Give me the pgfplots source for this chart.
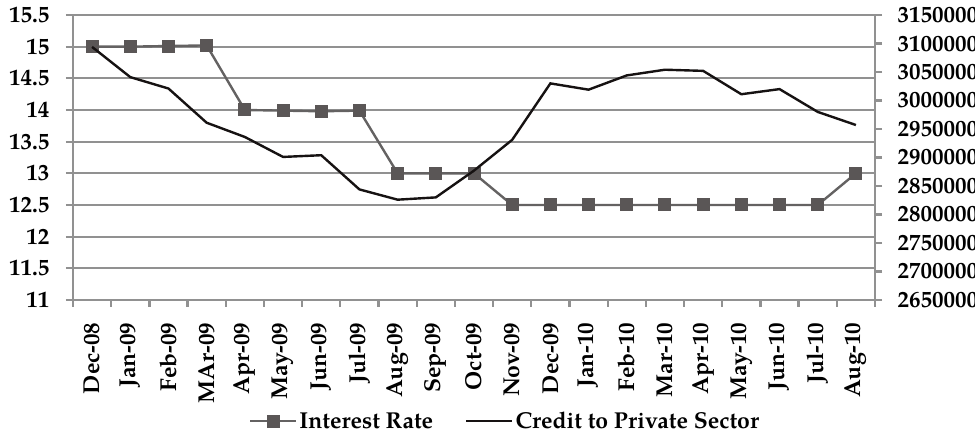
\documentclass[border=0pt]{standalone}
\usepackage{fontspec}
\setmainfont{TeX Gyre Pagella}
\usepackage{pgfplots}
\pgfplotsset{compat=1.18}
\definecolor{gridgray}{RGB}{145,145,145}
\definecolor{ratecol}{RGB}{90,86,86}
\definecolor{ratelinecol}{RGB}{100,98,98}
\definecolor{creditcol}{RGB}{22,18,18}

\pgfplotstableread{
x rate credit
0 15.00 3094000
1 15.00 3041000
2 15.01 3021000
3 15.02 2961000
4 14.00 2936000
5 13.99 2901000
6 13.98 2904000
7 13.99 2844000
8 13.00 2826000
9 13.00 2830000
10 13.00 2877000
11 12.50 2931000
12 12.50 3030000
13 12.50 3019000
14 12.50 3044000
15 12.50 3054000
16 12.50 3052000
17 12.50 3011000
18 12.50 3020000
19 12.50 2980000
20 13.00 2957000
}\datatable

\begin{document}
\begin{tikzpicture}[font=\fontsize{23}{27}\selectfont\bfseries]
\pgfplotsset{
  common/.style={
    scale only axis, width=802pt, height=285pt,
    xmin=-0.5, xmax=20.5,
    axis line style={gridgray, line width=2.3pt},
    tick style={gridgray, line width=2.3pt},
    tick align=outside, major tick length=7pt,
    /pgf/number format/assume math mode=true,
    legend image code/.code={\draw[mark repeat=2,mark phase=2,##1] plot coordinates {(0pt,0pt) (23pt,0pt) (46pt,0pt)};},
  }
}
\begin{axis}[common,
  name=main,
  ymin=11, ymax=15.5,
  ytick={11,11.5,12,12.5,13,13.5,14,14.5,15,15.5},
  axis y line*=left, axis x line*=bottom,
  ymajorgrids=true,
  major grid style={gridgray, line width=2.3pt},
  xtick={-0.5,0.5,...,20.5}, xticklabels={},
  extra x ticks={0,1,...,20},
  extra x tick labels={Dec-08,Jan-09,Feb-09,MAr-09,Apr-09,May-09,Jun-09,Jul-09,Aug-09,Sep-09,Oct-09,Nov-09,Dec-09,Jan-10,Feb-10,Mar-10,Apr-10,May-10,Jun-10,Jul-10,Aug-10},
  extra x tick style={tick style={draw=none}, xticklabel style={rotate=90, anchor=east, xshift=-12pt}},
  yticklabel style={xshift=-13pt},
]
\addplot[ratelinecol, line width=2.4pt, mark=square*, mark size=6pt, mark options={ratecol, fill=ratecol, line width=0pt}] table[x=x, y=rate] {\datatable};
\end{axis}
\begin{axis}[common,
  ymin=2650000, ymax=3150000,
  ytick={2650000,2700000,2750000,2800000,2850000,2900000,2950000,3000000,3050000,3100000,3150000},
  scaled y ticks=false,
  yticklabel style={/pgf/number format/fixed, /pgf/number format/1000 sep={}, xshift=12pt},
  axis y line*=right, axis x line=none,
  legend style={at={(axis description cs:0.5387,-0.4246)}, anchor=center, draw=none, fill=none,
    font=\fontsize{23}{27}\selectfont\bfseries, legend columns=2,
    /tikz/every even column/.append style={column sep=30pt}},
]
\addlegendimage{ratelinecol, line width=2.4pt, mark=square*, mark size=6pt, mark options={ratecol, fill=ratecol, line width=0pt}}
\addlegendentry{Interest Rate}
\addplot[creditcol, line width=2.4pt, no marks] table[x=x, y=credit] {\datatable};
\addlegendentry{Credit to Private Sector}
\end{axis}
\pgfresetboundingbox
\path[use as bounding box] ([shift={(-73pt,-133pt)}]main.south west) rectangle ([shift={(100pt,15pt)}]main.north east);
\end{tikzpicture}
\end{document}
